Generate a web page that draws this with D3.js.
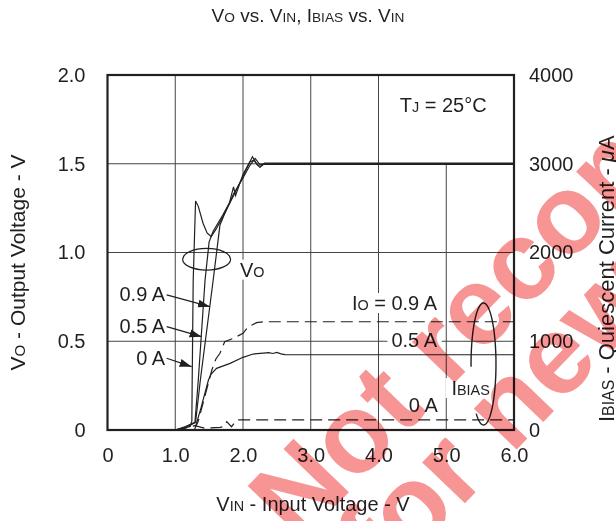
<!DOCTYPE html>
<html>
<head>
<meta charset="utf-8">
<script src="https://cdn.jsdelivr.net/npm/d3@7"></script>
<style>
body { margin: 0; background: #fff; }
svg text { font-family: Arial, "Liberation Sans", Helvetica, sans-serif; fill: #231f20; }
</style>
</head>
<body>
<script>
// Tick values
var xTicks = [0, 1, 2, 3, 4, 5, 6];
var voTicks = [0, 0.5, 1.0, 1.5, 2.0];
var biasTicks = [0, 1000, 2000, 3000, 4000];

// VO (V) vs VIN (V), one list per load current
var vo0A = [[0, 0], [1.0, 0], [1.12, 0.01], [1.22, 0.02], [1.245, 0.05], [1.25, 0.28], [1.265, 0.845],
  [1.30, 1.29], [1.34, 1.26], [1.41, 1.165], [1.47, 1.11], [1.53, 1.09], [1.6, 1.13], [1.7, 1.2],
  [1.86, 1.32], [2.0, 1.43], [2.1, 1.51], [2.14, 1.54], [2.2, 1.5], [2.25, 1.48], [2.3, 1.497], [6.0, 1.497]];
var vo05A = [[0, 0], [1.0, 0], [1.15, 0.015], [1.29, 0.04], [1.34, 0.28], [1.44, 0.845], [1.50, 1.06],
  [1.56, 1.12], [1.7, 1.21], [1.80, 1.28], [1.86, 1.37], [1.89, 1.32], [2.0, 1.44], [2.1, 1.51],
  [2.16, 1.52], [2.22, 1.49], [2.3, 1.5], [6.0, 1.5]];
var vo09A = [[0, 0], [1.0, 0], [1.15, 0.02], [1.30, 0.045], [1.37, 0.28], [1.56, 0.845], [1.66, 1.155],
  [1.72, 1.21], [1.86, 1.33], [2.0, 1.42], [2.1, 1.49], [2.18, 1.53], [2.24, 1.50], [2.28, 1.49],
  [2.32, 1.503], [6.0, 1.503]];

// IBIAS (uA) vs VIN (V)
var bias0A = [[1.0, 0], [1.15, 20], [1.29, 50], [1.44, 20], [1.66, 30], [1.71, 37], [1.76, 94],
  [1.83, 37], [1.91, 113], [6.0, 113]];
var bias05A = [[1.30, 40], [1.38, 250], [1.49, 563], [1.53, 630], [1.61, 695], [1.81, 751], [2.0, 819],
  [2.15, 856], [2.30, 866], [2.38, 872], [2.44, 862], [2.50, 874], [2.56, 858], [2.62, 850], [6.0, 848]];
var bias09A = [[1.28, 0], [1.34, 100], [1.42, 330], [1.50, 560], [1.54, 676], [1.60, 800], [1.66, 864],
  [1.73, 995], [1.86, 1033], [2.0, 1090], [2.08, 1164], [2.20, 1209], [2.30, 1220], [6.0, 1220]];

var ink = "#231f20";
var W = 616, H = 521;
var plotLeft = 107.5, plotRight = 514, plotTop = 75, plotBottom = 430;

var svg = d3.select("body").append("svg")
  .attr("width", W)
  .attr("height", H);

var x = d3.scaleLinear().domain([0, 6]).range([plotLeft, plotRight]);
var y = d3.scaleLinear().domain([0, 2]).range([plotBottom, plotTop]);
var yBias = d3.scaleLinear().domain([0, 4000]).range([plotBottom, plotTop]);

// arrow head
svg.append("defs").append("marker")
  .attr("id", "arrow")
  .attr("viewBox", "0 -5 12 10")
  .attr("refX", 12).attr("refY", 0)
  .attr("markerUnits", "userSpaceOnUse")
  .attr("markerWidth", 12).attr("markerHeight", 10)
  .attr("orient", "auto")
  .append("path")
  .attr("d", "M0,-4L12,0L0,4Z")
  .attr("fill", ink);

// Grid
var grid = svg.append("g").attr("stroke", "#444").attr("stroke-width", 1);
grid.selectAll(".vg").data(xTicks.slice(1, -1)).enter().append("line")
  .attr("x1", d => x(d)).attr("x2", d => x(d))
  .attr("y1", y(0))
  .attr("y2", d => d == 5 ? y(1.5) : y(2));
grid.selectAll(".hg").data(voTicks.slice(1, -1)).enter().append("line")
  .attr("x1", x(0)).attr("x2", x(6))
  .attr("y1", d => y(d)).attr("y2", d => y(d));

// Curves
var line = d3.line().x(d => x(d[0])).y(d => y(d[1]));
var lineBias = d3.line().x(d => x(d[0])).y(d => yBias(d[1]));

[vo0A, vo05A, vo09A].forEach(function(c) {
  svg.append("path").attr("d", line(c))
    .attr("fill", "none").attr("stroke", ink).attr("stroke-width", 1.2);
});
svg.append("path").attr("d", lineBias(bias0A))
  .attr("fill", "none").attr("stroke", ink).attr("stroke-width", 1.2).attr("stroke-dasharray", "12,6");
svg.append("path").attr("d", lineBias(bias05A))
  .attr("fill", "none").attr("stroke", ink).attr("stroke-width", 1.2);
svg.append("path").attr("d", lineBias(bias09A))
  .attr("fill", "none").attr("stroke", ink).attr("stroke-width", 1.2).attr("stroke-dasharray", "12,6");

// Frame
svg.append("rect")
  .attr("x", x(0)).attr("y", y(2))
  .attr("width", x(6) - x(0)).attr("height", y(0) - y(2))
  .attr("fill", "none").attr("stroke", ink).attr("stroke-width", 2.2);

// Axes
var fmtX = d => d == 0 ? "0" : d3.format(".1f")(d);
var xAxis = svg.append("g").attr("transform", "translate(0," + plotBottom + ")")
  .call(d3.axisBottom(x).tickValues(xTicks).tickFormat(fmtX).tickSize(0).tickPadding(18));
var yAxis = svg.append("g").attr("transform", "translate(" + plotLeft + ",0)")
  .call(d3.axisLeft(y).tickValues(voTicks).tickFormat(fmtX).tickSize(0).tickPadding(22));
var yAxisR = svg.append("g").attr("transform", "translate(" + plotRight + ",0)")
  .call(d3.axisRight(yBias).tickValues(biasTicks).tickFormat(d3.format("d")).tickSize(0).tickPadding(15));
[xAxis, yAxis, yAxisR].forEach(function(a) {
  a.select(".domain").remove();
  a.selectAll("text").attr("font-size", 20).attr("fill", ink)
    .style("font-family", "Arial, 'Liberation Sans', sans-serif");
});

// helper for text with small-cap subscripts
function rich(sel, parts, size) {
  parts.forEach(function(p) {
    sel.append("tspan").attr("font-size", p[1] ? size * 0.72 : size)
      .attr("font-style", p[2] ? "italic" : null).text(p[0]);
  });
  return sel;
}

// Title
rich(svg.append("text").attr("x", 308).attr("y", 22).attr("text-anchor", "middle"),
  [["V"], ["O", 1], [" vs. "], ["V"], ["IN", 1], [", I"], ["BIAS", 1], [" vs. "], ["V"], ["IN", 1]], 19);

// Axis titles
rich(svg.append("text").attr("transform", "translate(313,511)")
  .attr("text-anchor", "middle"),
  [["V"], ["IN", 1], [" - Input Voltage - V"]], 20);
rich(svg.append("text").attr("transform", "translate(25," + (y(1) + 10) + ") rotate(-90)")
  .attr("text-anchor", "middle"),
  [["V"], ["O", 1], [" - Output Voltage - V"]], 21);
rich(svg.append("text").attr("transform", "translate(614,422) rotate(-90)")
  .attr("text-anchor", "start"),
  [["I"], ["BIAS", 1], [" - Quiescent Current - "], ["\u03bc", 0, 1], ["A"]], 22);

// Annotations (data units)
function label(parts, vx, vy, anchor, boxPad) {
  var t = rich(svg.append("text").attr("x", x(vx)).attr("y", y(vy)).attr("text-anchor", anchor), parts, 20);
  if (boxPad != null) {
    var b = t.node().getBBox();
    svg.insert("rect", function() { return t.node(); })
      .attr("x", b.x - boxPad).attr("y", b.y + 1)
      .attr("width", b.width + 2 * boxPad).attr("height", b.height - 2)
      .attr("fill", "#fff");
  }
  return t;
}
label([["T"], ["J", 1], [" = 25\u00b0C"]], 4.314, 1.793, "start");
label([["V"], ["O", 1]], 1.954, 0.864, "start", 3);
label([["0.9 A"]], 0.85, 0.728, "end");
label([["0.5 A"]], 0.85, 0.545, "end");
label([["0 A"]], 0.85, 0.366, "end");
label([["I"], ["O", 1], [" = 0.9 A"]], 4.864, 0.676, "end", 1);
label([["0.5 A"]], 4.864, 0.466, "end", 4);
label([["0 A"]], 4.875, 0.103, "end");
label([["I"], ["BIAS", 1]], 5.077, 0.197, "start", 6);

// Arrows to VO curves
var arrows = [[0.873, 0.761, 1.512, 0.695], [0.873, 0.582, 1.389, 0.526], [0.873, 0.404, 1.242, 0.357]];
svg.selectAll(".arr").data(arrows).enter().append("line")
  .attr("x1", d => x(d[0])).attr("y1", d => y(d[1]))
  .attr("x2", d => x(d[2])).attr("y2", d => y(d[3]))
  .attr("stroke", ink).attr("stroke-width", 1.2)
  .attr("marker-end", "url(#arrow)");

// VO ellipse
svg.append("ellipse")
  .attr("cx", x(1.463)).attr("cy", y(0.962))
  .attr("rx", x(1.463 + 0.354) - x(1.463)).attr("ry", y(0) - y(0.061))
  .attr("fill", "none").attr("stroke", ink).attr("stroke-width", 1.2);

// IBIAS open loop
var cx = x(5.55), cy = yBias(744), rx = x(5.55 + 0.184) - x(5.55), ry = yBias(0) - yBias(687);
var loop = d3.range(177.5, 486.2, 2).map(function(a) {
  var t = a * Math.PI / 180;
  return [cx + rx * Math.cos(t), cy + ry * Math.sin(t)];
});
svg.append("path").attr("d", d3.line()(loop))
  .attr("fill", "none").attr("stroke", ink).attr("stroke-width", 1.4);

// Watermark
var wm = svg.append("g").style("mix-blend-mode", "multiply").attr("opacity", 0.55);
wm.append("text").attr("transform", "translate(298,545) rotate(-46)")
  .attr("font-size", 112).attr("font-weight", "bold").style("fill", "#f03c3c")
  .text("Not recommended");
wm.append("text").attr("transform", "translate(386,585) rotate(-46)")
  .attr("font-size", 112).attr("font-weight", "bold").style("fill", "#f03c3c")
  .text("for new designs");
</script>
</body>
</html>
